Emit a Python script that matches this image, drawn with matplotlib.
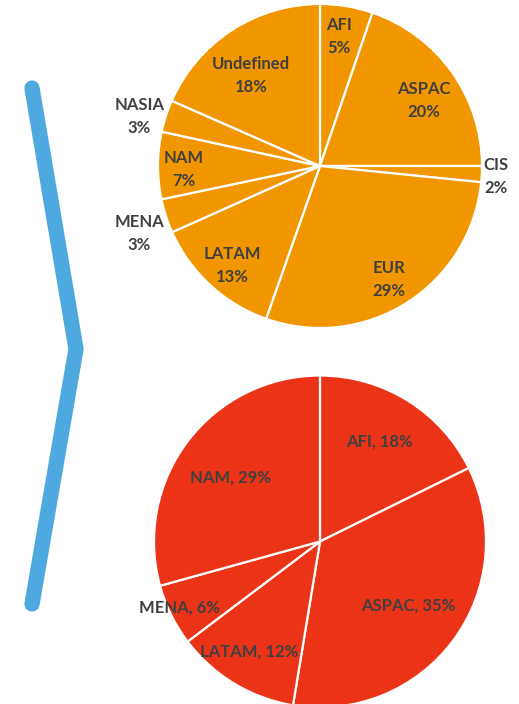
import numpy as np
import matplotlib.pyplot as plt

# top pie (orange) - shares in %, labels show them rounded
top_labels = ['AFI', 'ASPAC', 'CIS', 'EUR', 'LATAM', 'MENA', 'NAM', 'NASIA', 'Undefined']
top_values = [5.25, 19.75, 1.6, 28.8, 12.9, 3.4, 6.7, 3.2, 18.4]

# bottom pie (red)
bot_labels = ['AFI', 'ASPAC', 'LATAM', 'MENA', 'NAM']
bot_values = [17.7, 34.9, 12.1, 6.0, 29.3]

# label placement: (distance in radii, angle clockwise from 12 o'clock)
top_label_pos = [(0.81, 8.3), (0.76, 57.7), (1.09, 93.3), (0.82, 148.6), (0.82, 221.5),
                 (1.19, 249.5), (0.84, 268.5), (1.155, 285.3), (0.70, 322.6)]
bot_label_pos = [(0.71, 30.5), (0.65, 124.9), (0.78, 213.4), (0.93, 245.4), (0.67, 306.2)]

W, H = 519, 704
fig = plt.figure(figsize=(W / 100, H / 100), dpi=100)
ax = fig.add_axes([0, 0, 1, 1])

TEXT = '#404040'
FONT = 'Lato'


def draw_pie(values, labels, pos, center, radius, color, fmt, dy=0):
    ax.pie(values, colors=[color] * len(values), startangle=90, counterclock=False,
           center=center, radius=radius,
           wedgeprops=dict(edgecolor='white', linewidth=1.6))
    for v, lab, (d, ang) in zip(values, labels, pos):
        a = np.deg2rad(90 - ang)
        x = center[0] + d * radius * np.cos(a)
        y = center[1] + d * radius * np.sin(a) + dy
        ax.text(x, y, fmt(lab, round(v)), ha='center', va='center', color=TEXT,
                fontsize=12, fontweight='bold', family=FONT, linespacing=1.55)


draw_pie(top_values, top_labels, top_label_pos, (320, H - 166), 162, '#F29600',
         lambda l, v: f'{l}\n{v}%')
draw_pie(bot_values, bot_labels, bot_label_pos, (320, H - 541.5), 166, '#EB3417',
         lambda l, v: f'{l}, {v}%', dy=-2)

# blue chevron on the left
ax.plot([32, 76, 32], [H - 88, H - 349, H - 604], color='#4FA9E1', lw=11,
        solid_capstyle='round', solid_joinstyle='miter')

ax.set_xlim(0, W)
ax.set_ylim(0, H)
ax.set_aspect('equal')
ax.axis('off')

fig.savefig('out.png', dpi=100)
